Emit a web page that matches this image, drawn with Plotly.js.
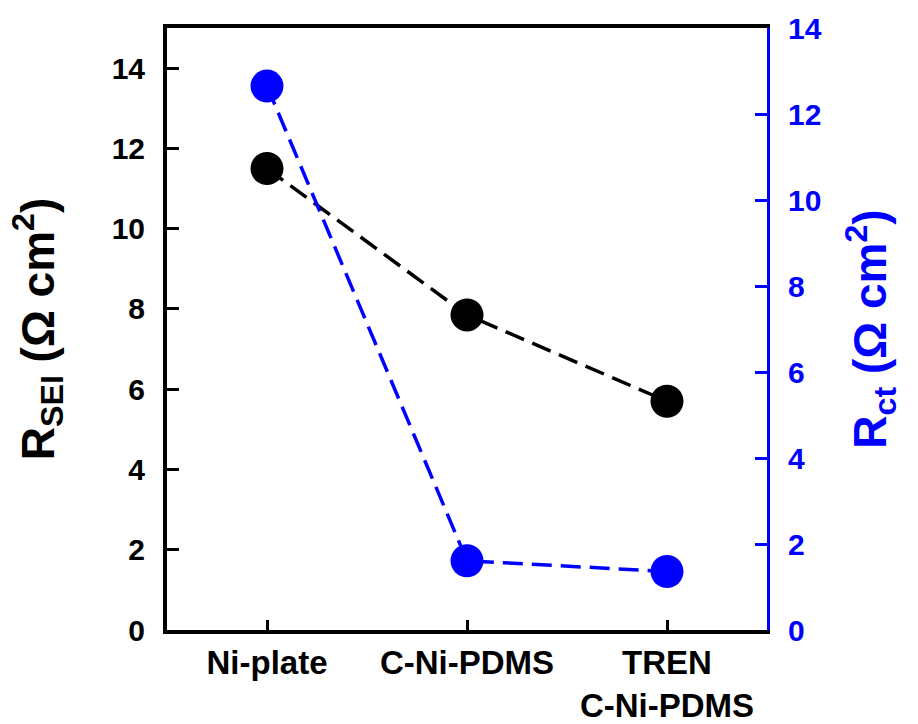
<!DOCTYPE html>
<html>
<head>
<meta charset="utf-8">
<script src="https://cdn.plot.ly/plotly-3.0.1.min.js"></script>
<style>
  html, body { margin: 0; padding: 0; background: #ffffff; }
  #chart { width: 918px; height: 724px; }
</style>
</head>
<body>
<div id="chart"></div>
<script>
// Electrode samples along the x axis
const samples = ['Ni-plate', 'C-Ni-PDMS', 'TREN<br>C-Ni-PDMS'];

// SEI resistance (left axis), Ω cm²
const rSEI = [11.5, 7.85, 5.7];

// Charge-transfer resistance (right axis), Ω cm²
const rCt = [12.65, 1.61, 1.36];

// Tick values for the two y axes
const leftTicks = [0, 2, 4, 6, 8, 10, 12, 14];
const rightTicks = [0, 2, 4, 6, 8, 10, 12, 14];

const BLUE = '#0000ff';
const BLACK = '#000000';
const FONT = 'Liberation Sans, Arial, sans-serif';

const traces = [
  {
    x: samples, y: rSEI, type: 'scatter', mode: 'lines+markers',
    yaxis: 'y', cliponaxis: false,
    line: { color: BLACK, width: 3.5, dash: '20px,9px' },
    marker: { color: BLACK, size: 33 },
    hoverinfo: 'x+y', showlegend: false
  },
  {
    x: samples, y: rCt, type: 'scatter', mode: 'lines+markers',
    yaxis: 'y2', cliponaxis: false,
    line: { color: BLUE, width: 3.5, dash: '20px,9px' },
    marker: { color: BLUE, size: 33 },
    hoverinfo: 'x+y', showlegend: false
  }
];

const layout = {
  width: 918, height: 724,
  margin: { l: 167, r: 151, t: 28, b: 94 },
  paper_bgcolor: '#ffffff', plot_bgcolor: '#ffffff',
  showlegend: false,
  xaxis: {
    type: 'category', range: [-0.5, 2.5],
    showline: true, linecolor: BLACK, linewidth: 4, mirror: true,
    ticks: 'inside', ticklen: 10, tickwidth: 3, tickcolor: BLACK,
    showgrid: false, zeroline: false, fixedrange: true,
    tickfont: { family: FONT, size: 33, color: BLACK, weight: 'bold' },
    ticklabelstandoff: 0
  },
  yaxis: {
    range: [0, 15], tickvals: leftTicks, ticktext: leftTicks.map(String),
    showline: true, linecolor: BLACK, linewidth: 4,
    ticks: 'inside', ticklen: 12, tickwidth: 3, tickcolor: BLACK,
    showgrid: false, zeroline: false, fixedrange: true,
    tickfont: { family: FONT, size: 30, color: BLACK, weight: 'bold' },
    ticklabelstandoff: 12,
    title: {
      text: 'R<sub>SEI</sub> (Ω cm<sup>2</sup>)', standoff: 44,
      font: { family: FONT, size: 46, color: BLACK, weight: 'bold' }
    }
  },
  yaxis2: {
    overlaying: 'y', side: 'right', anchor: 'x',
    range: [0, 14], tickvals: rightTicks, ticktext: rightTicks.map(String),
    showline: true, linecolor: BLUE, linewidth: 3,
    ticks: 'inside', ticklen: 12, tickwidth: 3, tickcolor: BLUE,
    showgrid: false, zeroline: false, fixedrange: true,
    tickfont: { family: FONT, size: 30, color: BLUE, weight: 'bold' },
    ticklabelstandoff: 12,
    title: {
      text: 'R<sub>ct</sub> (Ω cm<sup>2</sup>)', standoff: 34,
      font: { family: FONT, size: 46, color: BLUE, weight: 'bold' }
    }
  }
};

Plotly.newPlot('chart', traces, layout, { displayModeBar: false, staticPlot: true });
</script>
</body>
</html>
